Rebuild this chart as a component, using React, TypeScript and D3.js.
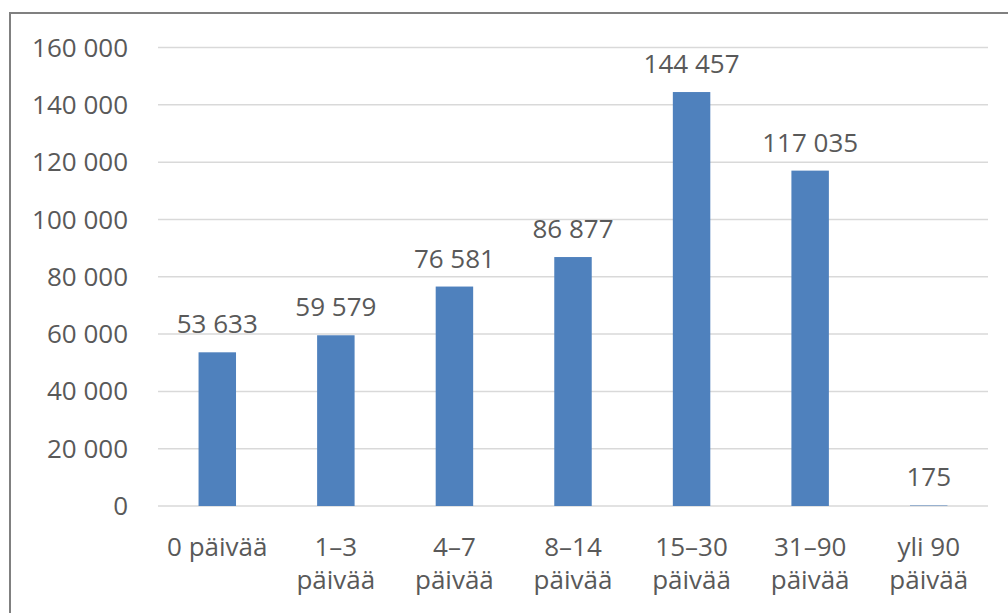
import React from "react";
import * as d3 from "d3";

const categories: string[][] = [
  ["0 päivää"],
  ["1–3", "päivää"],
  ["4–7", "päivää"],
  ["8–14", "päivää"],
  ["15–30", "päivää"],
  ["31–90", "päivää"],
  ["yli 90", "päivää"],
];
const values: number[] = [53633, 59579, 76581, 86877, 144457, 117035, 175];
const yTicks: number[] = [0, 20000, 40000, 60000, 80000, 100000, 120000, 140000, 160000];

const W = 1008;
const H = 613;
const left = 158;
const right = 988;
const top = 47.5;
const bottom = 506;
const font = "'Open Sans', 'Noto Sans', sans-serif";
const textColor = "#595959";
const fs = 26;

const fmt = (v: number) => d3.format(",")(v).replace(/,/g, " ");

export default function App() {
  const x = d3
    .scaleBand<number>()
    .domain(d3.range(categories.length))
    .range([left, right])
    .paddingInner(0.684)
    .paddingOuter(0.342);
  const y = d3.scaleLinear().domain([0, 160000]).range([bottom, top]);

  return (
    <svg
      width={W}
      height={H}
      style={{ position: "absolute", left: 0, top: 0, background: "#fff" }}
    >
      <rect x={10} y={13} width={W + 20} height={H + 20} fill="#fff" stroke="#808080" strokeWidth={2} />
      {yTicks.map((t) => (
        <g key={t}>
          <line x1={left} x2={right} y1={y(t)} y2={y(t)} stroke="#d9d9d9" strokeWidth={1.5} />
          <text
            x={128}
            y={y(t)}
            dy="0.35em"
            textAnchor="end"
            fontFamily={font}
            fontSize={fs}
            fill={textColor}
          >
            {fmt(t)}
          </text>
        </g>
      ))}
      {values.map((v, i) => (
        <g key={i}>
          <rect x={x(i)} y={y(v)} width={x.bandwidth()} height={bottom - y(v)} fill="#4f81bd" />
          <text
            x={(x(i) as number) + x.bandwidth() / 2}
            y={y(v) - 19}
            textAnchor="middle"
            fontFamily={font}
            fontSize={fs}
            fill={textColor}
          >
            {fmt(v)}
          </text>
        </g>
      ))}
      {categories.map((lines, i) => (
        <text
          key={i}
          x={(x(i) as number) + x.bandwidth() / 2}
          y={556}
          textAnchor="middle"
          fontFamily={font}
          fontSize={fs}
          fill={textColor}
        >
          {lines.map((l, j) => (
            <tspan key={j} x={(x(i) as number) + x.bandwidth() / 2} dy={j === 0 ? 0 : 33}>
              {l}
            </tspan>
          ))}
        </text>
      ))}
    </svg>
  );
}
